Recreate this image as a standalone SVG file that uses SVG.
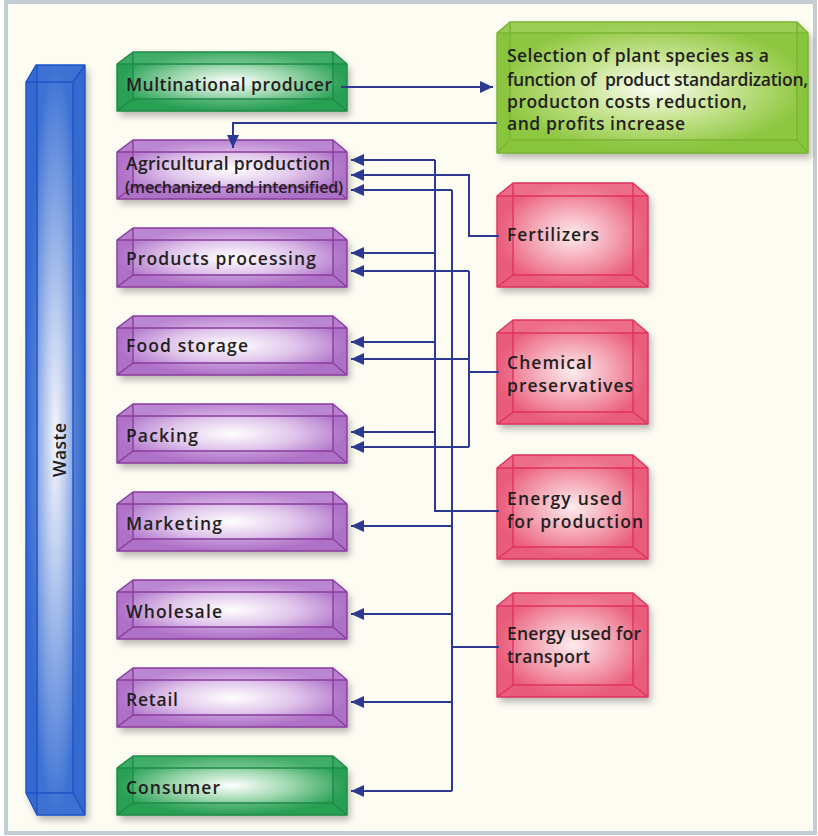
<svg xmlns="http://www.w3.org/2000/svg" xmlns:xlink="http://www.w3.org/1999/xlink" width="818" height="836" viewBox="0 0 818 836">
  <defs>
    <style>
      .lbl { font-family: "Open Sans", "Noto Sans", "Liberation Sans", sans-serif; font-weight: 600; font-size: 17.5px; fill: #231f20; }
      .small { font-size: 16px; }
      .edge { fill: none; stroke-width: 1.4; stroke-linejoin: round; }
      .wire { fill: none; stroke: #2b3990; stroke-width: 2; }
      .arrow { marker-end: url(#head); }
    </style>

    <filter id="shadow" x="-20%" y="-30%" width="145%" height="175%">
      <feDropShadow dx="3" dy="5" stdDeviation="3.5" flood-color="#000" flood-opacity="0.28"/>
    </filter>

    <marker id="head" markerUnits="userSpaceOnUse" markerWidth="13" markerHeight="12" viewBox="0 0 13 12" refX="13" refY="6" orient="auto">
      <path d="M0,0 L13,6 L0,12 Z" fill="#2b3990"/>
    </marker>

    <!-- glassy fills: light core fading to the box colour -->
    <radialGradient id="gPurple" cx="0.5" cy="0.5" r="0.5">
      <stop offset="0" stop-color="#ffffff"/>
      <stop offset="0.55" stop-color="#e0c5eb"/>
      <stop offset="1" stop-color="#b37bcc"/>
    </radialGradient>
    <radialGradient id="gGreen" cx="0.5" cy="0.5" r="0.5">
      <stop offset="0" stop-color="#ffffff"/>
      <stop offset="0.5" stop-color="#9fd8b0"/>
      <stop offset="1" stop-color="#2fa35a"/>
    </radialGradient>
    <radialGradient id="gLime" cx="0.5" cy="0.5" r="0.5">
      <stop offset="0" stop-color="#fbfdf4"/>
      <stop offset="0.5" stop-color="#c6e38f"/>
      <stop offset="1" stop-color="#8dc63f"/>
    </radialGradient>
    <radialGradient id="gRed" cx="0.5" cy="0.5" r="0.5">
      <stop offset="0" stop-color="#fdecef"/>
      <stop offset="0.5" stop-color="#f5a9b8"/>
      <stop offset="1" stop-color="#ea5f7c"/>
    </radialGradient>
    <radialGradient id="gBlue" cx="0.5" cy="0.5" r="0.5">
      <stop offset="0" stop-color="#f4f6fc"/>
      <stop offset="0.35" stop-color="#b9cbef"/>
      <stop offset="1" stop-color="#3d72d4"/>
    </radialGradient>

    <!-- purple stage box, 230 x 59 -->
    <g id="pbox">
      <path d="M117,12 L133,0 H333 L347,12 V59 H117 Z" fill="url(#gPurple)" filter="url(#shadow)"/>
      <path d="M117,12 L133,0 V47 L117,59 Z M347,12 L333,0 V47 L347,59 Z M117,59 L133,47 H333 L347,59 Z" fill="#a65fc0" opacity="0.35"/>
      <path d="M117,12 L133,0 H333 L347,12 Z" fill="#c89ad9" opacity="0.35"/>
      <path class="edge" stroke="#8b3d9c" d="M117,12 L133,0 H333 L347,12 V59 H117 Z M117,12 H347 M133,0 V47 H333 V0 M117,59 L133,47 M347,59 L333,47"/>
    </g>

    <!-- green actor box, same frame -->
    <g id="gbox">
      <path d="M117,12 L133,0 H333 L347,12 V59 H117 Z" fill="url(#gGreen)" filter="url(#shadow)"/>
      <path d="M117,12 L133,0 V47 L117,59 Z M347,12 L333,0 V47 L347,59 Z M117,59 L133,47 H333 L347,59 Z" fill="#1f9a4c" opacity="0.4"/>
      <path d="M117,12 L133,0 H333 L347,12 Z" fill="#5cbf7c" opacity="0.4"/>
      <path class="edge" stroke="#1d8b45" d="M117,12 L133,0 H333 L347,12 V59 H117 Z M117,12 H347 M133,0 V47 H333 V0 M117,59 L133,47 M347,59 L333,47"/>
    </g>

    <!-- red input box, 151 x 104 -->
    <g id="rbox">
      <path d="M0,13 L16,0 H136 L151,13 V104 H0 Z" fill="url(#gRed)" filter="url(#shadow)"/>
      <path d="M0,13 L16,0 V92 L0,104 Z M151,13 L136,0 V92 L151,104 Z M0,104 L16,92 H136 L151,104 Z" fill="#e9557a" opacity="0.3"/>
      <path d="M0,13 L16,0 H136 L151,13 Z" fill="#f28aa0" opacity="0.35"/>
      <path class="edge" stroke="#e0325e" d="M0,13 L16,0 H136 L151,13 V104 H0 Z M0,13 H151 M16,0 V92 H136 V0 M0,104 L16,92 M151,104 L136,92"/>
    </g>
  </defs>

  <!-- framed page -->
  <rect x="6" y="2" width="809" height="831" fill="#fdfcf3" stroke="#c3cdd4" stroke-width="4"/>

  <!-- waste column -->
  <g id="waste">
    <path d="M26,82 L36,65 H85 V815 H37 L26,793 Z" fill="url(#gBlue)" filter="url(#shadow)"/>
    <path d="M26,82 L36,65 H37 V815 L26,793 Z M73,82 L85,65 V815 L73,793 Z" fill="#2f63cc" opacity="0.55"/>
    <path class="edge" stroke="#1d54c4" d="M26,82 L36,65 H85 V815 H37 L26,793 Z M26,82 H73 L85,65 M73,82 V793 M26,793 H73 L85,815 M37,65 V815"/>
    <text class="lbl" transform="translate(66,450) rotate(-90)" text-anchor="middle" textLength="54" lengthAdjust="spacing">Waste</text>
  </g>

  <!-- actors and stages -->
  <g id="multinational-producer">
    <use href="#gbox" y="52"/>
    <text class="lbl" x="126" y="91" textLength="206" lengthAdjust="spacing">Multinational producer</text>
  </g>

  <g id="selection">
    <path d="M497,33 L510,22 H797 L808,33 V153 H497 Z" fill="url(#gLime)" filter="url(#shadow)"/>
    <path d="M497,33 L510,22 V140 L497,153 Z M808,33 L797,22 V140 L808,153 Z M497,153 L510,140 H797 L808,153 Z" fill="#86c23a" opacity="0.45"/>
    <path d="M497,33 L510,22 H797 L808,33 Z" fill="#a9d46a" opacity="0.45"/>
    <path class="edge" stroke="#79b532" d="M497,33 L510,22 H797 L808,33 V153 H497 Z M497,33 H808 M510,22 V140 H797 V22 M497,153 L510,140 M808,153 L797,140"/>
    <text class="lbl" x="507" y="62" textLength="262" lengthAdjust="spacing">Selection of plant species as a</text>
    <text class="lbl" x="507" y="86" textLength="301" lengthAdjust="spacing" xml:space="preserve">function of  product standardization,</text>
    <text class="lbl" x="507" y="108" textLength="240" lengthAdjust="spacing">producton costs reduction,</text>
    <text class="lbl" x="507" y="130" textLength="178" lengthAdjust="spacing">and profits increase</text>
  </g>

  <g id="agricultural-production">
    <use href="#pbox" y="140"/>
    <text class="lbl" x="126" y="170" textLength="204" lengthAdjust="spacing">Agricultural production</text>
    <text class="lbl small" x="125" y="193" textLength="218" lengthAdjust="spacing">(mechanized and intensified)</text>
  </g>

  <g id="products-processing">
    <use href="#pbox" y="228"/>
    <text class="lbl" x="126" y="265" textLength="190" lengthAdjust="spacing">Products processing</text>
  </g>

  <g id="food-storage">
    <use href="#pbox" y="316"/>
    <text class="lbl" x="126" y="352" textLength="122" lengthAdjust="spacing">Food storage</text>
  </g>

  <g id="packing">
    <use href="#pbox" y="404"/>
    <text class="lbl" x="126" y="442" textLength="72" lengthAdjust="spacing">Packing</text>
  </g>

  <g id="marketing">
    <use href="#pbox" y="492"/>
    <text class="lbl" x="126" y="530" textLength="96" lengthAdjust="spacing">Marketing</text>
  </g>

  <g id="wholesale">
    <use href="#pbox" y="580"/>
    <text class="lbl" x="126" y="618" textLength="96" lengthAdjust="spacing">Wholesale</text>
  </g>

  <g id="retail">
    <use href="#pbox" y="668"/>
    <text class="lbl" x="126" y="706" textLength="52" lengthAdjust="spacing">Retail</text>
  </g>

  <g id="consumer">
    <use href="#gbox" y="756"/>
    <text class="lbl" x="126" y="794" textLength="94" lengthAdjust="spacing">Consumer</text>
  </g>

  <!-- inputs -->
  <g id="fertilizers">
    <use href="#rbox" x="497" y="183"/>
    <text class="lbl" x="507" y="241" textLength="92" lengthAdjust="spacing">Fertilizers</text>
  </g>

  <g id="chemical-preservatives">
    <use href="#rbox" x="497" y="320"/>
    <text class="lbl" x="507" y="369" textLength="85" lengthAdjust="spacing">Chemical</text>
    <text class="lbl" x="507" y="392" textLength="126" lengthAdjust="spacing">preservatives</text>
  </g>

  <g id="energy-production">
    <use href="#rbox" x="497" y="455"/>
    <text class="lbl" x="507" y="505" textLength="115" lengthAdjust="spacing">Energy used</text>
    <text class="lbl" x="507" y="528" textLength="136" lengthAdjust="spacing">for production</text>
  </g>

  <g id="energy-transport">
    <use href="#rbox" x="497" y="593"/>
    <text class="lbl" x="507" y="640" textLength="134" lengthAdjust="spacing">Energy used for</text>
    <text class="lbl" x="507" y="663" textLength="83" lengthAdjust="spacing">transport</text>
  </g>

  <!-- connectors -->
  <g id="connectors">
    <path class="wire arrow" d="M341,87 H493"/>
    <path class="wire arrow" d="M497,123 H233 V148"/>

    <!-- energy used for production -->
    <path class="wire" d="M499,511 H435 V160"/>
    <path class="wire arrow" d="M435,160 H351"/>
    <path class="wire arrow" d="M435,253 H351"/>
    <path class="wire arrow" d="M435,342 H351"/>
    <path class="wire arrow" d="M435,432 H351"/>

    <!-- fertilizers -->
    <path class="wire arrow" d="M499,236 H469 V175 H351"/>

    <!-- chemical preservatives -->
    <path class="wire" d="M499,372 H469 M469,271 V447"/>
    <path class="wire arrow" d="M469,271 H351"/>
    <path class="wire arrow" d="M469,359 H351"/>
    <path class="wire arrow" d="M469,447 H351"/>

    <!-- energy used for transport -->
    <path class="wire" d="M499,647 H452 M452,190 V791"/>
    <path class="wire arrow" d="M452,190 H351"/>
    <path class="wire arrow" d="M452,526 H351"/>
    <path class="wire arrow" d="M452,614 H351"/>
    <path class="wire arrow" d="M452,702 H351"/>
    <path class="wire arrow" d="M452,791 H351"/>
  </g>
</svg>
